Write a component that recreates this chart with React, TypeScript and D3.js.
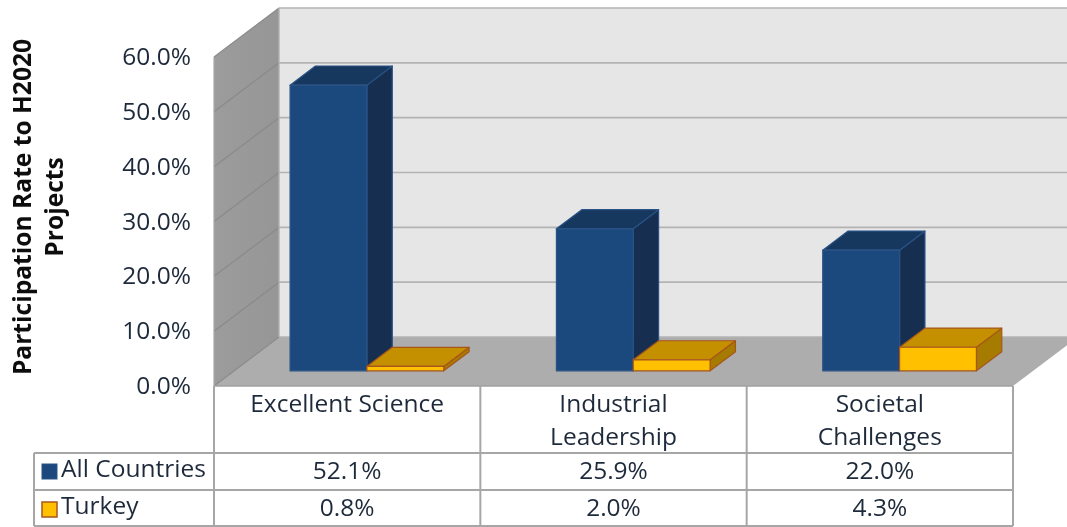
import React from "react";
import * as d3 from "d3";

const categories: string[][] = [["Excellent Science"], ["Industrial", "Leadership"], ["Societal", "Challenges"]];
const seriesNames = ["All Countries", "Turkey"];
const allCountries = [52.1, 25.9, 22.0];
const turkey = [0.8, 2.0, 4.3];
const yTicks = [0, 10, 20, 30, 40, 50, 60];
const titleLines = ["Participation Rate to H2020", "Projects"];

const W = 1067, H = 527;
const FONT = "'Open Sans', 'Noto Sans', sans-serif";
const TXT = "#1f2a3a";

const xS = d3.scaleLinear().domain([0, 3]).range([214, 1013]);
const yS = d3.scaleLinear().domain([0, 60]).range([386, 57]);
const DX = 65, DY = -49;
const P = (c: number, v: number, z: number): [number, number] => [xS(c) + DX * z, yS(v) + DY * z];
const poly = (pts: [number, number][]) => pts.map((p) => p.join(",")).join(" ");

const GAP_L = 0.21;
const BAR_W = 0.2885;
const Z0 = 0.31, Z1 = 0.70;

function Box({ c, w, v, front, top, side, stroke }: any) {
  const a = P(c, 0, Z0), b = P(c + w, 0, Z0), d = P(c + w, v, Z0), e = P(c, v, Z0);
  const f = P(c, v, Z1), g = P(c + w, v, Z1), h = P(c + w, 0, Z1);
  return (
    <g stroke={stroke} strokeWidth={1.2} strokeLinejoin="round">
      <polygon points={poly([b, h, g, d])} fill={side} />
      <polygon points={poly([e, d, g, f])} fill={top} />
      <polygon points={poly([a, b, d, e])} fill={front} />
    </g>
  );
}

export default function App() {
  const colBounds = d3.range(0, 4);
  const rowY = [453, 490, 526];
  return (
    <svg width={W} height={H} viewBox={`0 0 ${W} ${H}`} style={{ position: "absolute", left: 0, top: 0, display: "block", background: "#fff" }}>
      <defs>
        <filter id="soft" x="-2%" y="-2%" width="104%" height="104%">
          <feGaussianBlur stdDeviation="0.45" />
        </filter>
        <linearGradient id="wall" x1="0" x2="1" y1="0" y2="0">
          <stop offset="0" stopColor="#9c9c9c" />
          <stop offset="1" stopColor="#969696" />
        </linearGradient>
      </defs>
      <g filter="url(#soft)">
        <polygon points={poly([P(0, 0, 1), P(3, 0, 1), P(3, 60, 1), P(0, 60, 1)])} fill="#e6e6e6" />
        <polygon points={poly([P(0, 0, 0), P(0, 0, 1), P(0, 60, 1), P(0, 60, 0)])} fill="url(#wall)" />
        <polygon points={poly([P(0, 0, 0), P(3, 0, 0), P(3, 0, 1), P(0, 0, 1)])} fill="#adadad" />
        {yTicks.map((t) => (
          <g key={t} fill="none">
            <line x1={P(0, t, 1)[0]} y1={P(0, t, 1)[1]} x2={P(3, t, 1)[0]} y2={P(3, t, 1)[1]} stroke="#b3b3b3" strokeWidth={1.6} />
            <line x1={P(0, t, 0)[0]} y1={P(0, t, 0)[1]} x2={P(0, t, 1)[0]} y2={P(0, t, 1)[1]} stroke="#8a8a8a" strokeWidth={1.2} />
          </g>
        ))}
        <line x1={P(0, 0, 1)[0]} y1={P(0, 0, 1)[1]} x2={P(0, 60, 1)[0]} y2={P(0, 60, 1)[1]} stroke="#b0b0b0" strokeWidth={1.4} />
        <line x1={xS(0)} y1={yS(0)} x2={xS(3)} y2={yS(0)} stroke="#a0a0a0" strokeWidth={1.6} />
        <line x1={xS(0)} y1={yS(0)} x2={xS(0)} y2={yS(60)} stroke="#a8a8a8" strokeWidth={1.2} />

        {categories.map((_, i) => (
          <g key={i}>
            <Box c={i + GAP_L} w={BAR_W} v={allCountries[i]} front="#1f497d" top="#17375e" side="#152f50" stroke="#2a5285" />
            <Box c={i + GAP_L + BAR_W} w={BAR_W} v={turkey[i]} front="#ffc000" top="#c49000" side="#a67c00" stroke="#a8551c" />
          </g>
        ))}

        {yTicks.map((t) => (
          <text key={t} x={191} y={yS(t) + 8} textAnchor="end" fontFamily={FONT} fontSize={24.5} fill={TXT}>
            {d3.format(".1f")(t)}%
          </text>
        ))}

        {titleLines.map((l, i) => (
          <text key={l} transform={`translate(${31 + i * 32},207) rotate(-90)`} textAnchor="middle" fontFamily={FONT} fontWeight={700} fontSize={24.6} fill="#111">
            {l}
          </text>
        ))}

        <g stroke="#a6a6a6" strokeWidth={2} fill="none">
          {colBounds.map((c) => (
            <line key={c} x1={xS(c)} x2={xS(c)} y1={386} y2={526} />
          ))}
          <line x1={34} x2={34} y1={453} y2={526} />
          {rowY.map((y) => (
            <line key={y} x1={34} x2={xS(3)} y1={y} y2={y} />
          ))}
        </g>
        {categories.map((lines, i) =>
          lines.map((l, j) => (
            <text key={l} x={xS(i + 0.5)} y={412 + j * 33} textAnchor="middle" fontFamily={FONT} fontSize={24.5} fill={TXT}>
              {l}
            </text>
          ))
        )}
        {[allCountries, turkey].map((vals, r) =>
          vals.map((v, i) => (
            <text key={i} x={xS(i + 0.5)} y={rowY[r] + 26} textAnchor="middle" fontFamily={FONT} fontSize={24.5} fill={TXT}>
              {d3.format(".1f")(v)}%
            </text>
          ))
        )}
        <rect x={42} y={464} width={15} height={15} fill="#1f497d" stroke="#2a5285" />
        <rect x={42} y={502} width={15} height={15} fill="#ffc000" stroke="#a8551c" strokeWidth={1.5} />
        {seriesNames.map((n, r) => (
          <text key={n} x={61} y={rowY[r] + 24} fontFamily={FONT} fontSize={24.5} fill={TXT}>
            {n}
          </text>
        ))}
      </g>
    </svg>
  );
}
